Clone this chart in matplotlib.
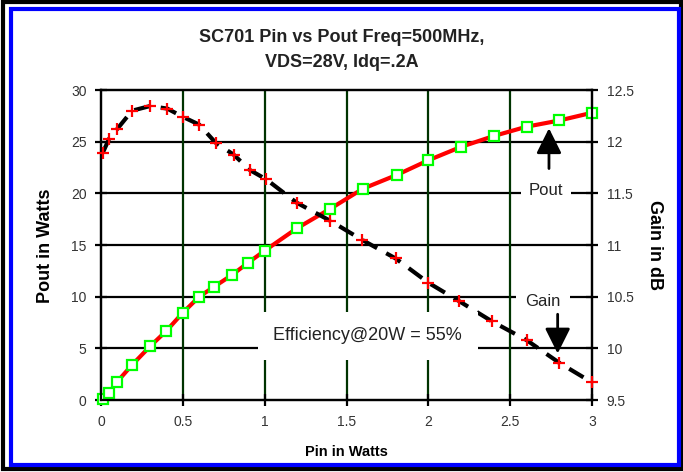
import matplotlib
matplotlib.use("Agg")
import matplotlib.pyplot as plt
from matplotlib.patches import Rectangle

# Pout curve (left axis)
pin_pout = [0.01, 0.05, 0.095, 0.19, 0.30, 0.40, 0.50, 0.60, 0.69, 0.80, 0.90, 1.0,
            1.195, 1.40, 1.60, 1.81, 2.0, 2.2, 2.4, 2.6, 2.8, 3.0]
pout = [0.1, 0.7, 1.7, 3.4, 5.2, 6.7, 8.45, 10.0, 10.95, 12.1, 13.3, 14.45,
        16.6, 18.5, 20.45, 21.8, 23.2, 24.5, 25.55, 26.45, 27.05, 27.8]

# Gain curve (right axis)
pin_gain = [0.01, 0.05, 0.10, 0.19, 0.30, 0.405, 0.50, 0.60, 0.70, 0.81, 0.91, 1.01,
            1.195, 1.40, 1.595, 1.80, 2.0, 2.19, 2.39, 2.6, 2.8, 3.0]
gain = [11.89, 12.03, 12.125, 12.30, 12.345, 12.32, 12.24, 12.165, 11.99, 11.875, 11.725, 11.635,
        11.41, 11.235, 11.05, 10.87, 10.635, 10.455, 10.26, 10.08, 9.86, 9.67]

x_ticks = [0, 0.5, 1, 1.5, 2, 2.5, 3]
x_labels = ["0", "0.5", "1", "1.5", "2", "2.5", "3"]
left_ticks = [0, 5, 10, 15, 20, 25, 30]
right_ticks = [9.5, 10, 10.5, 11, 11.5, 12, 12.5]
right_labels = ["9.5", "10", "10.5", "11", "11.5", "12", "12.5"]

plt.rcParams['font.family'] = ['Liberation Sans', 'DejaVu Sans']

fig = plt.figure(figsize=(6.83, 4.72), dpi=100)

# frame: black outer line, blue inner line
fig.patches.append(Rectangle((0.004, 0.006), 0.993, 0.99, transform=fig.transFigure,
                             fill=False, ec='black', lw=3))
fig.patches.append(Rectangle((0.0165, 0.0155), 0.977, 0.966, transform=fig.transFigure,
                             fill=False, ec='#0000ff', lw=3))

ax = fig.add_axes([0.1479, 0.1525, 0.7189, 0.6568])
ax2 = ax.twinx()

ax.set_xlim(0, 3)
ax.set_ylim(0, 30)
ax2.set_ylim(9.5, 12.5)

# grid: black horizontal, dark green vertical
for v in [5, 10, 15, 20, 25]:
    ax.axhline(v, color='black', lw=1.6, zorder=1)
for v in [0.5, 1, 1.5, 2, 2.5]:
    ax.axvline(v, color='#003300', lw=1.6, zorder=1)

ax.plot(pin_pout, pout, color='#ff0000', lw=3, zorder=3, clip_on=False,
        marker='s', ms=7, mfc='white', mec='#00ff00', mew=1.6)
ax2.plot(pin_gain, gain, color='black', lw=3, ls=(0, (4, 2.5)), zorder=3, clip_on=False,
         marker='+', ms=9, mec='#ff0000', mew=1.6)

for a in (ax, ax2):
    for s in a.spines.values():
        s.set_linewidth(1.6)
ax.set_zorder(1)
ax2.set_zorder(2)

ax.set_xticks(x_ticks)
ax.set_xticklabels(x_labels)
ax.set_yticks(left_ticks)
ax.set_yticklabels([str(t) for t in left_ticks])
ax2.set_yticks(right_ticks)
ax2.set_yticklabels(right_labels)
ax.tick_params(axis='both', direction='inout', length=9, width=1.6,
               labelsize=10, labelcolor='#333333', pad=6)
ax2.tick_params(axis='y', direction='inout', length=9, width=1.6,
                labelsize=10, labelcolor='#333333', pad=6)

ax.set_xlabel("Pin in Watts", fontsize=10.5, fontweight='bold', labelpad=12)
fig.text(0.066, 0.48, "Pout in Watts", rotation=90, ha='center', va='center',
         fontsize=13, fontweight='bold')
fig.text(0.958, 0.48, "Gain in dB", rotation=270, ha='center', va='center',
         fontsize=13, fontweight='bold')

fig.text(0.5, 0.921, "SC701 Pin vs Pout Freq=500MHz,", ha='center', va='center',
         fontsize=13, fontweight='bold', color='#222222')
fig.text(0.5, 0.868, "VDS=28V, Idq=.2A", ha='center', va='center',
         fontsize=13, fontweight='bold', color='#222222')

ax2.text(1.63, 6.2, "Efficiency@20W = 55%", transform=ax.transData, ha='center', va='center',
         fontsize=13, color='#222222', bbox=dict(boxstyle='square,pad=0.85', fc='white', ec='none'),
         zorder=5)
ax2.text(2.72, 20.3, "Pout", transform=ax.transData, ha='center', va='center',
         fontsize=12, color='#222222', bbox=dict(boxstyle='square,pad=0.45', fc='white', ec='none'),
         zorder=5)
ax2.text(2.70, 9.5, "Gain", transform=ax.transData, ha='center', va='center',
         fontsize=12, color='#222222', bbox=dict(boxstyle='square,pad=0.55', fc='white', ec='none'),
         zorder=5)

arrow = dict(arrowstyle='-|>,head_length=1.1,head_width=0.55', color='black', lw=2,
             shrinkA=0, shrinkB=0, mutation_scale=14)
ax2.annotate("", xy=(2.737, 26.3), xytext=(2.737, 22.4), xycoords=ax.transData,
             textcoords=ax.transData, arrowprops=arrow, zorder=6)
ax2.annotate("", xy=(2.79, 4.5), xytext=(2.79, 8.3), xycoords=ax.transData,
             textcoords=ax.transData, arrowprops=arrow, zorder=6)

fig.savefig("out.png", dpi=100)
